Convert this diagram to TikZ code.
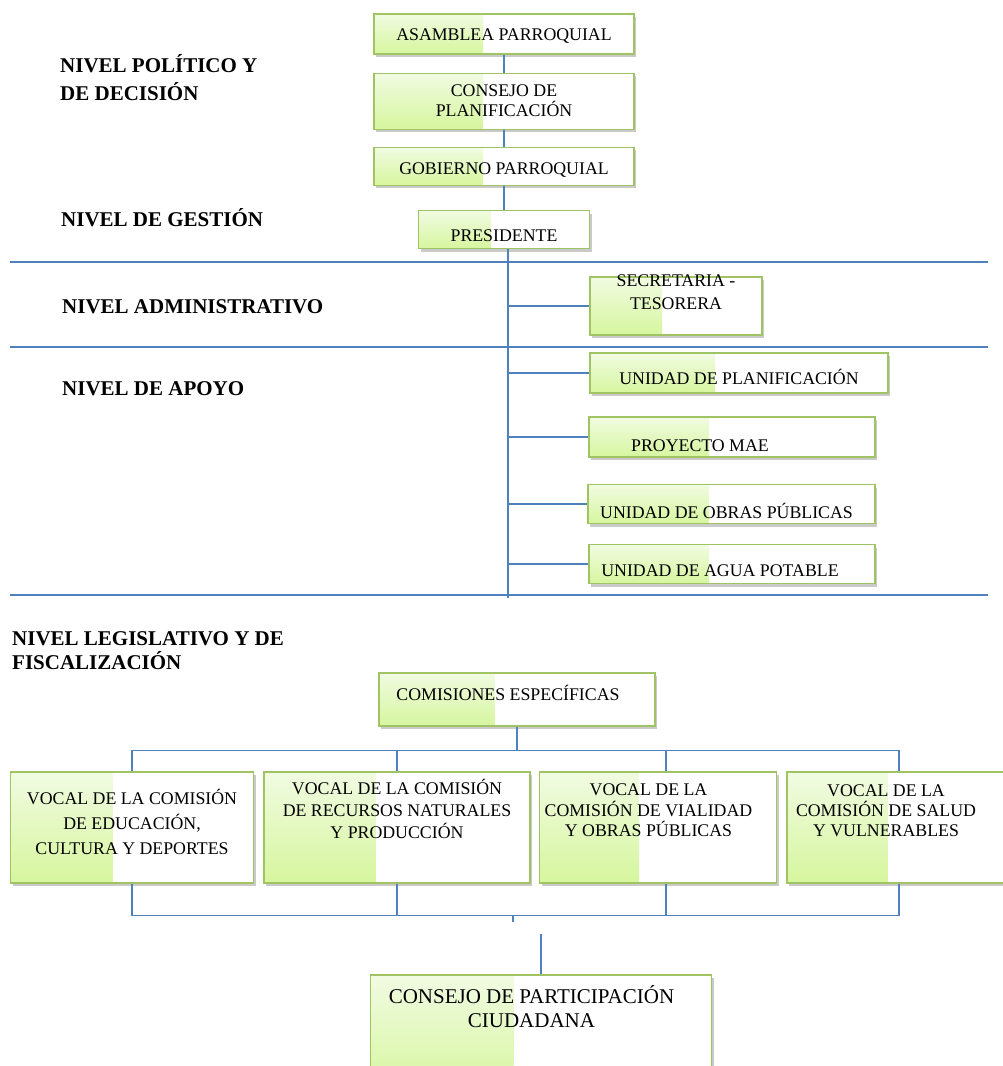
\documentclass[tikz,border=0pt]{standalone}
\usepackage{fontspec}
\setmainfont{Liberation Serif}
\usetikzlibrary{positioning,calc,shadows}

\definecolor{borde}{RGB}{160,196,100}
\definecolor{verdearriba}{RGB}{241,251,226}
\definecolor{verdeabajo}{RGB}{214,246,158}
\definecolor{azul}{RGB}{79,129,189}

% texto de caja, bajado #1 pt respecto al centro
\newcommand{\rotulo}[2]{\raisebox{\dimexpr-.25em-(#1pt)\relax}[0pt][0pt]{\begin{tabular}{@{}c@{}}#2\end{tabular}}}

\begin{document}
\begin{tikzpicture}[x=1pt, y=-1pt,
	caja/.style 2 args={draw=borde, line width=1.2pt, fill=white, minimum width=#1pt, minimum height=#2pt, inner sep=0pt,
		font=\fontsize{17.8}{21}\selectfont,
		drop shadow={shadow xshift=2pt, shadow yshift=-3pt, opacity=.35, fill=black!60},
		path picture={\shade[top color=verdearriba, bottom color=verdeabajo] (path picture bounding box.south west) rectangle ($(path picture bounding box.north west)!.42!(path picture bounding box.north east)$);}},
	nivel/.style={anchor=base west, align=left, inner sep=0pt, font=\fontsize{21}{27.5}\selectfont\bfseries},
	conector/.style={draw=azul, line width=1.3pt}
	]
	\useasboundingbox (0,0) rectangle (1003,1066);
	\clip (0,0) rectangle (1003,1066);

	% niveles
	\node (politico) [nivel] at (60,100) {NIVEL POLÍTICO Y\\DE DECISIÓN};
	\node (gestion) [nivel] at (61,226) {NIVEL DE GESTIÓN};
	\node (administrativo) [nivel] at (62,313) {NIVEL ADMINISTRATIVO};
	\node (apoyo) [nivel] at (62,395) {NIVEL DE APOYO};
	\node (legislativo) [nivel] at (12,669) {NIVEL LEGISLATIVO Y DE\\[-3.5pt]FISCALIZACIÓN};

	\draw [conector] (10,262) -- (988,262);
	\draw [conector] (10,347) -- (988,347);
	\draw [conector] (10,595) -- (988,595);

	% parte superior
	\node (asamblea) [caja={260}{40}] at (504,34) {\rotulo{2}{ASAMBLEA PARROQUIAL}};
		\node (planificacion) [caja={260}{56}, below=18pt of asamblea] {\rotulo{1}{CONSEJO DE\\[-1pt]PLANIFICACIÓN}};
		\node (gobierno) [caja={260}{38}, below=17pt of planificacion] {\rotulo{4}{GOBIERNO PARROQUIAL}};
		\node (presidente) [caja={171}{38}, below=24pt of gobierno] {\rotulo{8}{PRESIDENTE}};

	\node (secretaria) [caja={172}{58}] at (676,306) {\rotulo{-12.5}{SECRETARIA -\\[2pt]TESORERA}};
	\node (uplanif) [caja={298}{40}] at (739,373) {\rotulo{7}{UNIDAD DE PLANIFICACIÓN}};
	\node (mae) [caja={286}{40}] at (732,437) {\rotulo{10}{PROYECTO MAE}\hspace*{64pt}};
	\node (obras) [caja={287}{39}] at (731.5,504) {\rotulo{10}{UNIDAD DE OBRAS PÚBLICAS}\hspace*{10pt}};
	\node (agua) [caja={286}{39}] at (732,564) {\rotulo{8}{UNIDAD DE AGUA POTABLE}\hspace*{24pt}};
	\coordinate (tronco) at (508,598);

	\draw [conector] (asamblea.south) -- (planificacion.north);
	\draw [conector] (planificacion.south) -- (gobierno.north);
	\draw [conector] (gobierno.south) -- (presidente.north);
	\draw [conector] (presidente.south -| tronco) -- (tronco);
	\foreach \u in {secretaria, uplanif, mae, obras, agua}
		\draw [conector] (\u.west -| tronco) -- (\u.west);

	% parte inferior
	\node (comisiones) [caja={276}{53}] at (517,699.5) {\rotulo{-3.5}{COMISIONES ESPECÍFICAS}\hspace*{18pt}};
	\node (vocaleducacion) [caja={243}{111}] at (132,827.5) {\rotulo{-2.5}{VOCAL DE LA COMISIÓN\\[4pt]DE EDUCACIÓN,\\[4pt]CULTURA Y DEPORTES}};
	\node (vocalrecursos) [caja={266}{111}] at (397,827.5) {\rotulo{-15.5}{VOCAL DE LA COMISIÓN\\[1pt]DE RECURSOS NATURALES\\[1pt]Y PRODUCCIÓN}};
	\node (vocalvialidad) [caja={237}{111}] at (658,827.5) {\rotulo{-15.5}{VOCAL DE LA\\[-1pt]COMISIÓN DE VIALIDAD\\[-1pt]Y OBRAS PÚBLICAS}\hspace*{19pt}};
	\node (vocalsalud) [caja={240}{111}] at (907,827.5) {\rotulo{-15.5}{VOCAL DE LA\\[-1pt]COMISIÓN DE SALUD\\[-1pt]Y VULNERABLES}\hspace*{42pt}};
	\node (participacion) [caja={341}{120}, font=\fontsize{21}{24}\selectfont] at (541,1035) {\rotulo{-25}{CONSEJO DE PARTICIPACIÓN\\CIUDADANA}\hspace*{19pt}};
	\coordinate (marca) at (513,915);

	\draw [conector] (comisiones.south) -- ++(0,24) -| (vocaleducacion.north);
	\draw [conector] (comisiones.south) -- ++(0,24) -| ([xshift=-8pt]vocalsalud.north);
	\draw [conector] (vocalrecursos.north) -- ++(0,-21);
	\draw [conector] ([xshift=8pt]vocalvialidad.north) -- ++(0,-21);

	\draw [conector] (vocaleducacion.south) -- ++(0,32) -| ([xshift=-8pt]vocalsalud.south);
	\draw [conector] (vocalrecursos.south) -- ++(0,32);
	\draw [conector] ([xshift=8pt]vocalvialidad.south) -- ++(0,32);
	\draw [conector] (marca) -- ++(0,7);
	\draw [conector] (participacion.north) -- ++(0,-40);

\end{tikzpicture}
\end{document}
